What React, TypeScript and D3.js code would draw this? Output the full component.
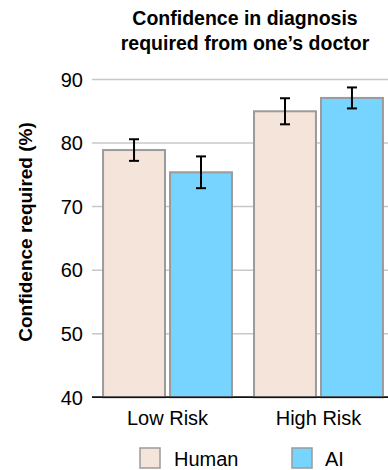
import React from 'react'
import * as d3 from 'd3'

const width = 388
const height = 470

const groups = ['Low Risk', 'High Risk']
const series = ['Human', 'AI']
const humanValues = [78.9, 85.0]
const aiValues = [75.4, 87.1]
const humanErrors = [1.7, 2.05]
const aiErrors = [2.5, 1.65]
const yTicks = [40, 50, 60, 70, 80, 90]

const colors = { Human: '#f5e4da', AI: '#76d4fe' }
const font = '"Liberation Sans", Arial, Helvetica, sans-serif'

const y = d3.scaleLinear().domain([40, 90]).range([397.3, 79.5])
const x0 = d3.scaleBand().domain(groups).range([94, 392]).paddingInner(0.146).paddingOuter(0.06)
const x1 = d3.scaleBand().domain(series).range([0, x0.bandwidth()]).paddingInner(0.075)

const App = () => {
    const bars = []
    groups.forEach((g, gi) => {
        series.forEach((s) => {
            const v = s === 'Human' ? humanValues[gi] : aiValues[gi]
            const e = s === 'Human' ? humanErrors[gi] : aiErrors[gi]
            bars.push({ key: g + s, x: x0(g) + x1(s), v, e, fill: colors[s] })
        })
    })
    const bw = x1.bandwidth()

    return (
        <svg width={width} height={height} style={{ position: 'absolute', left: 0, top: 0 }} fontFamily={font}>
            <text x={245} y={25} textAnchor="middle" fontSize={19.5} fontWeight="bold">
                Confidence in diagnosis
            </text>
            <text x={245} y={50} textAnchor="middle" fontSize={19.5} fontWeight="bold">
                required from one’s doctor
            </text>

            {/* grid + ticks */}
            {yTicks.map((t) => (
                <g key={t}>
                    <line x1={92} x2={388} y1={y(t)} y2={y(t)} stroke={t === 40 ? '#111' : '#c8c8c8'} strokeWidth={1.5} />
                    <text x={83} y={y(t)} dy="0.36em" textAnchor="end" fontSize={20}>
                        {t}
                    </text>
                </g>
            ))}

            {bars.map((b) => (
                <rect key={b.key} x={b.x} y={y(b.v)} width={bw} height={y(40) - y(b.v)} fill={b.fill} stroke="#9b9b9b" strokeWidth={2} />
            ))}
            <line x1={92} x2={388} y1={y(40)} y2={y(40)} stroke="#111" strokeWidth={1.5} />

            {bars.map((b) => {
                const cx = b.x + bw / 2
                return (
                    <g key={'e' + b.key} stroke="#000" strokeWidth={2}>
                        <line x1={cx} x2={cx} y1={y(b.v + b.e)} y2={y(b.v - b.e)} />
                        <line x1={cx - 5} x2={cx + 5} y1={y(b.v + b.e)} y2={y(b.v + b.e)} />
                        <line x1={cx - 5} x2={cx + 5} y1={y(b.v - b.e)} y2={y(b.v - b.e)} />
                    </g>
                )
            })}

            {groups.map((g) => (
                <text key={g} x={x0(g) + x0.bandwidth() / 2} y={425} textAnchor="middle" fontSize={20}>
                    {g}
                </text>
            ))}

            <text transform="translate(32, 232) rotate(-90)" textAnchor="middle" fontSize={19} fontWeight="bold">
                Confidence required (%)
            </text>

            {/* legend */}
            <rect x={140} y={448} width={20} height={20} fill={colors.Human} stroke="#9b9b9b" strokeWidth={1.5} />
            <text x={174} y={466} fontSize={20}>Human</text>
            <rect x={292} y={448} width={20} height={20} fill={colors.AI} stroke="#9b9b9b" strokeWidth={1.5} />
            <text x={325} y={466} fontSize={20}>AI</text>
        </svg>
    )
}

export default App
